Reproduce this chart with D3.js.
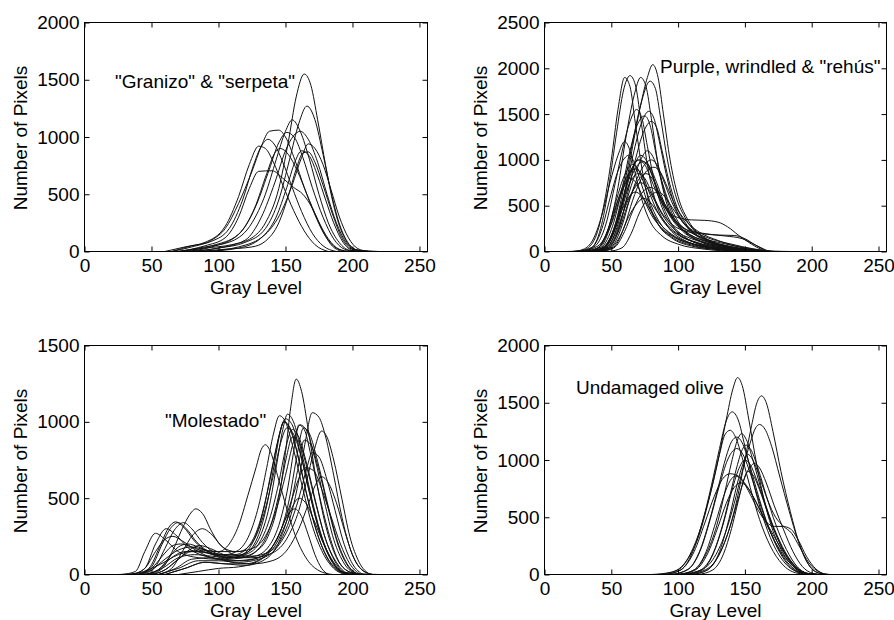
<!DOCTYPE html>
<html>
<head>
<meta charset="utf-8">
<script src="https://cdn.jsdelivr.net/npm/d3@7"></script>
<style>
  html, body { margin: 0; padding: 0; background: #fff; }
  svg { display: block; }
  text { font-family: "Liberation Sans", Arial, sans-serif; fill: #000; }
</style>
</head>
<body>
<svg id="chart" width="894" height="620"></svg>
<script>
// ---------------- DATA ----------------
const xTicks = [0, 50, 100, 150, 200, 250];
const xMax = 256;

const yTicksGranizo = [0, 500, 1000, 1500, 2000];
const yTicksPurple = [0, 500, 1000, 1500, 2000, 2500];
const yTicksMolestado = [0, 500, 1000, 1500];
const yTicksUndamaged = [0, 500, 1000, 1500, 2000];

const labelGranizo = '"Granizo" & "serpeta"';
const labelPurple = 'Purple, wrindled & "rehús"';
const labelMolestado = '"Molestado"';
const labelUndamaged = 'Undamaged olive';

// Each curve: [gray level, number of pixels] knots
const granizoCurves = [
  [[70,0],[90,30],[110,60],[125,120],[135,250],[145,550],[152,950],[158,1350],[164,1550],[169,1450],[174,1150],[180,750],[186,400],[192,170],[198,50],[206,5],[215,0]],
  [[80,0],[100,30],[120,80],[135,200],[145,450],[153,800],[160,1120],[166,1270],[172,1150],[178,850],[184,520],[190,250],[196,90],[203,15],[212,0]],
  [[70,0],[90,40],[110,90],[125,250],[135,500],[143,800],[150,1050],[155,1150],[161,1050],[168,800],[175,500],[182,250],[190,80],[198,10],[208,0]],
  [[65,0],[80,40],[95,100],[105,200],[115,420],[125,700],[132,920],[138,1050],[145,1060],[150,1000],[157,800],[164,560],[172,320],[180,130],[188,30],[196,0]],
  [[80,0],[100,30],[120,100],[132,300],[142,600],[150,880],[156,1010],[161,1050],[167,980],[174,780],[181,500],[188,250],[195,80],[203,10],[212,0]],
  [[75,0],[95,50],[115,150],[128,400],[138,720],[145,950],[151,1040],[157,990],[163,820],[170,560],[178,300],[186,110],[194,20],[202,0]],
  [[65,0],[80,50],[95,90],[108,200],[118,450],[126,750],[132,920],[137,980],[142,930],[148,780],[155,560],[162,350],[170,160],[178,50],[188,0]],
  [[60,0],[75,40],[90,80],[105,220],[115,480],[123,760],[130,920],[135,900],[141,780],[148,580],[156,360],[164,180],[172,60],[182,0]],
  [[75,0],[95,40],[115,150],[127,380],[136,680],[142,860],[146,900],[152,850],[159,700],[166,500],[174,280],[182,110],[190,20],[198,0]],
  [[90,0],[115,40],[135,150],[147,350],[155,580],[162,820],[167,940],[172,900],[178,760],[184,540],[190,310],[197,120],[204,25],[212,0]],
  [[90,0],[115,30],[132,120],[143,300],[151,560],[157,780],[162,880],[168,830],[174,660],[180,450],[186,250],[193,80],[200,10],[208,0]],
  [[70,0],[90,50],[105,120],[115,300],[123,550],[130,700],[140,705],[148,640],[156,560],[163,500],[170,380],[177,200],[184,60],[192,0]],
  [[85,0],[105,20],[125,40],[135,90],[145,250],[152,480],[158,720],[163,860],[167,870],[172,780],[178,580],[185,330],[192,120],[200,20],[220,0]]
];

const purpleCurves = [
  [[20,0],[30,20],[38,150],[45,550],[50,1000],[55,1550],[60,1900],[64,1800],[68,1400],[73,900],[78,550],[85,300],[95,150],[110,60],[130,20],[150,0]],
  [[25,0],[35,40],[42,250],[48,700],[54,1300],[59,1750],[64,1920],[68,1820],[72,1450],[77,950],[83,550],[92,280],[105,120],[125,40],[150,5],[165,0]],
  [[30,0],[40,40],[48,250],[55,700],[61,1250],[67,1700],[72,1900],[76,1800],[80,1450],[85,950],[91,550],[100,280],[115,120],[135,40],[160,0]],
  [[35,0],[45,40],[53,250],[60,650],[66,1150],[72,1600],[77,1900],[81,2040],[85,1900],[89,1500],[94,1000],[100,600],[108,330],[120,150],[140,50],[165,0]],
  [[35,0],[45,60],[53,300],[60,750],[66,1200],[72,1600],[79,1860],[83,1780],[87,1450],[92,1000],[98,620],[106,350],[118,160],[138,50],[165,0]],
  [[28,0],[38,60],[46,300],[53,750],[59,1150],[64,1420],[69,1550],[73,1450],[77,1150],[82,780],[88,480],[97,250],[112,100],[135,25],[160,0]],
  [[35,0],[45,50],[54,300],[61,700],[67,1100],[73,1420],[78,1530],[82,1450],[86,1200],[91,850],[97,520],[106,280],[120,120],[140,40],[165,0]],
  [[33,0],[43,50],[51,280],[58,680],[64,1100],[70,1400],[75,1480],[79,1380],[83,1100],[88,750],[95,430],[104,230],[118,100],[140,25],[165,0]],
  [[22,0],[30,30],[37,150],[43,400],[49,750],[55,1050],[60,1200],[64,1100],[68,850],[73,560],[79,330],[88,170],[100,80],[120,25],[145,0]],
  [[38,0],[48,50],[56,280],[62,580],[68,850],[73,1030],[77,1100],[81,1040],[86,850],[92,580],[99,350],[108,190],[122,90],[145,25],[170,0]],
  [[35,0],[45,40],[52,220],[58,500],[63,780],[68,970],[72,1050],[76,1000],[81,820],[87,560],[94,330],[104,170],[118,70],[140,15],[160,0]],
  [[35,0],[45,50],[52,250],[58,550],[64,850],[70,1000],[75,950],[80,780],[86,580],[93,430],[100,370],[110,345],[120,340],[130,320],[137,270],[145,180],[155,80],[165,10],[172,0]],
  [[38,0],[48,60],[55,300],[61,620],[67,880],[74,980],[79,920],[84,750],[90,520],[97,340],[106,240],[118,200],[130,180],[142,175],[150,140],[158,70],[166,10],[172,0]],
  [[30,0],[40,40],[47,220],[53,520],[59,800],[66,950],[70,900],[75,720],[80,500],[87,300],[96,170],[110,80],[130,25],[150,0]],
  [[40,0],[50,50],[58,280],[64,580],[70,820],[75,950],[80,1000],[84,950],[89,780],[95,550],[102,350],[112,200],[125,110],[145,40],[168,0]],
  [[32,0],[42,50],[49,260],[55,560],[61,800],[68,900],[73,840],[78,660],[84,450],[91,290],[100,180],[115,90],[135,30],[158,0]],
  [[42,0],[52,50],[60,280],[66,560],[72,780],[78,900],[82,920],[87,860],[92,700],[98,500],[106,330],[116,210],[130,120],[148,40],[168,0]],
  [[38,0],[48,40],[56,240],[62,500],[69,750],[76,850],[81,790],[86,620],[93,420],[101,270],[112,160],[128,80],[150,20],[168,0]],
  [[30,0],[40,40],[47,220],[53,480],[59,700],[64,800],[69,740],[74,580],[80,400],[88,250],[98,150],[112,80],[135,20],[155,0]],
  [[36,0],[46,40],[54,230],[60,470],[66,660],[72,750],[77,700],[83,540],[90,360],[98,230],[110,140],[125,80],[145,30],[165,0]],
  [[42,0],[52,40],[60,220],[66,440],[72,620],[79,700],[84,660],[90,520],[97,360],[106,240],[118,150],[133,90],[150,40],[168,0]],
  [[34,0],[44,40],[51,200],[57,420],[63,590],[68,650],[73,600],[79,460],[86,310],[95,190],[108,100],[125,40],[150,0]],
  [[48,0],[58,40],[65,200],[71,420],[78,590],[85,650],[90,600],[96,470],[103,330],[112,220],[124,140],[140,80],[156,30],[170,0]],
  [[40,0],[50,40],[57,180],[63,380],[69,520],[74,580],[79,540],[85,420],[92,290],[101,180],[114,100],[132,40],[155,0]],
  [[26,0],[36,50],[43,250],[49,580],[55,880],[60,1020],[63,1050],[67,980],[72,760],[78,500],[85,300],[95,160],[110,70],[130,20],[150,0]],
  [[38,0],[48,40],[56,260],[62,620],[68,1000],[74,1300],[80,1420],[84,1350],[88,1100],[93,780],[99,490],[107,280],[120,130],[140,40],[165,0]],
  [[35,0],[45,50],[53,280],[59,560],[65,780],[70,850],[75,800],[81,620],[88,420],[96,290],[106,220],[120,190],[135,170],[148,140],[158,70],[168,0]],
  [[15,0],[28,5],[40,60],[50,300],[58,650],[65,900],[71,1000],[76,960],[82,780],[89,520],[97,320],[108,190],[125,100],[145,35],[170,5],[185,0]]
];

const molestadoCurves = [
  [[28,0],[38,20],[45,150],[53,270],[60,230],[70,150],[85,110],[100,100],[115,120],[125,200],[133,400],[140,700],[145,900],[149,1000],[154,950],[160,750],[167,480],[174,260],[182,100],[190,25],[198,0]],
  [[35,0],[45,40],[53,200],[61,300],[68,260],[78,170],[90,120],[105,100],[118,110],[128,150],[137,250],[144,450],[150,800],[154,1100],[158,1280],[162,1200],[167,950],[173,620],[180,320],[187,130],[195,30],[205,0]],
  [[38,0],[48,40],[57,200],[63,310],[68,345],[74,310],[82,220],[92,150],[105,130],[115,160],[123,260],[130,450],[136,700],[141,920],[145.5,1040],[150,1000],[156,820],[163,560],[170,320],[178,140],[186,40],[195,0]],
  [[42,0],[52,40],[60,170],[67,290],[74,340],[80,300],[88,210],[98,140],[110,120],[120,140],[130,230],[138,450],[144,750],[148,950],[151.5,1050],[156,1000],[162,800],[169,520],[176,280],[184,100],[192,20],[200,0]],
  [[48,0],[58,40],[66,160],[74,320],[80,410],[83,430],[88,400],[95,280],[103,180],[113,150],[125,170],[135,250],[143,420],[150,650],[156,870],[161,980],[166,940],[172,760],[179,480],[186,230],[194,70],[203,0]],
  [[55,0],[65,40],[73,150],[81,260],[88,300],[94,270],[102,190],[112,130],[125,120],[138,150],[148,250],[155,420],[160,620],[165,880],[170,1060],[175,1030],[180,900],[186,650],[192,380],[199,150],[206,40],[215,0]],
  [[45,0],[55,30],[63,110],[70,180],[77,200],[85,180],[95,140],[110,110],[125,110],[140,140],[152,250],[160,420],[166,620],[171,800],[177,940],[181,900],[186,750],[192,500],[198,250],[205,80],[213,0]],
  [[40,0],[50,30],[60,100],[70,160],[80,180],[90,160],[100,150],[108,200],[115,320],[122,520],[128,700],[132,820],[135,850],[139,800],[144,650],[151,430],[158,240],[166,100],[175,25],[185,0]],
  [[40,0],[50,40],[60,140],[66,190],[72,200],[80,180],[92,140],[105,120],[118,130],[128,220],[136,450],[142,740],[146,930],[148.5,1000],[153,960],[159,790],[166,520],[173,290],[181,110],[190,20],[198,0]],
  [[35,0],[45,40],[53,150],[60,230],[66,250],[73,220],[83,160],[95,110],[110,90],[125,100],[138,160],[147,300],[153,500],[158,750],[163.5,960],[168,920],[174,740],[181,480],[188,240],[196,70],[205,0]],
  [[50,0],[60,30],[70,100],[80,150],[92,140],[105,100],[118,90],[130,110],[140,180],[148,320],[155,500],[160,630],[165,700],[171,680],[177,560],[184,380],[191,200],[198,70],[206,0]],
  [[55,0],[68,40],[80,100],[95,110],[110,80],[125,70],[140,90],[152,170],[160,300],[167,460],[172,580],[177,640],[182,600],[188,470],[194,290],[200,130],[207,30],[215,0]],
  [[70,0],[85,20],[100,40],[115,50],[128,80],[138,150],[145,260],[151,380],[157,430],[162,380],[167,260],[172,130],[177,40],[182,0]],
  [[60,0],[75,40],[90,80],[105,70],[120,70],[133,110],[143,200],[150,330],[155,440],[160,500],[165,470],[171,360],[178,210],[186,80],[194,10],[200,0]],
  [[40,0],[50,50],[58,200],[64,300],[70,340],[76,300],[84,210],[95,140],[108,110],[120,120],[132,190],[140,350],[146,560],[151,780],[155,900],[160,870],[166,700],[173,450],[180,230],[188,80],[196,10],[204,0]],
  [[50,0],[60,30],[70,100],[78,160],[86,190],[94,170],[104,130],[115,110],[127,120],[138,190],[146,350],[152,580],[156,800],[160,980],[164,950],[169,780],[175,530],[182,280],[189,100],[197,20],[205,0]],
  [[45,0],[55,30],[65,110],[75,150],[87,150],[100,130],[112,130],[122,180],[130,320],[137,560],[143,820],[147,970],[150,1020],[155,980],[161,800],[168,530],[175,290],[183,110],[191,20],[199,0]],
  [[55,0],[70,40],[85,90],[100,90],[115,80],[130,100],[143,170],[153,320],[160,500],[166,700],[170,800],[175,770],[181,620],[187,420],[193,220],[200,70],[208,0]],
  [[45,0],[58,40],[70,110],[82,130],[95,120],[108,110],[120,130],[130,200],[138,360],[145,600],[150,820],[155,950],[160,900],[166,720],[173,460],[180,230],[188,70],[196,0]],
  [[60,0],[75,40],[90,80],[105,70],[120,60],[135,100],[146,230],[153,420],[159,680],[164,880],[169,850],[175,680],[182,430],[189,200],[197,50],[205,0]],
  [[25,0],[40,10],[55,60],[70,130],[85,160],[100,150],[115,150],[126,220],[134,400],[141,650],[147,880],[151,960],[156,920],[162,760],[169,500],[176,270],[184,100],[193,15],[220,0]]
];

const undamagedCurves = [
  [[80,0],[95,20],[105,100],[115,320],[123,650],[130,1000],[136,1350],[141,1620],[144.5,1720],[148,1650],[153,1350],[159,950],[165,620],[172,350],[180,160],[188,50],[197,5],[205,0]],
  [[105,0],[118,30],[128,120],[137,350],[144,650],[150,1000],[155,1300],[159,1500],[162.5,1560],[166,1500],[171,1250],[177,900],[184,550],[191,260],[198,80],[206,10],[214,0]],
  [[85,0],[100,40],[110,200],[118,450],[125,780],[131,1100],[136,1340],[140.5,1420],[145,1350],[150,1120],[156,820],[163,520],[171,270],[180,100],[190,20],[200,0]],
  [[100,0],[115,30],[126,130],[135,350],[142,620],[148,900],[154,1150],[158,1280],[161,1310],[165,1270],[170,1120],[176,860],[183,560],[190,290],[197,100],[205,15],[212,0]],
  [[90,0],[102,40],[111,200],[118,450],[125,750],[131,1050],[135,1220],[139,1260],[143,1200],[148,1020],[154,760],[161,480],[169,250],[178,90],[188,15],[198,0]],
  [[100,0],[112,40],[121,180],[129,430],[135,720],[140,980],[144,1160],[147.5,1230],[151,1180],[156,1000],[162,750],[169,480],[177,250],[185,90],[194,10],[202,0]],
  [[95,0],[107,40],[116,200],[123,450],[130,760],[136,1030],[140,1160],[144,1200],[148,1150],[153,980],[159,730],[166,470],[174,240],[182,90],[191,15],[200,0]],
  [[105,0],[117,40],[126,180],[133,420],[139,700],[144,940],[148,1090],[151,1130],[155,1080],[160,920],[166,690],[173,440],[181,220],[189,70],[198,5],[205,0]],
  [[95,0],[108,50],[117,220],[124,480],[131,780],[137,1000],[141,1080],[144,1100],[148,1060],[153,920],[159,700],[166,460],[174,250],[183,90],[192,15],[200,0]],
  [[110,0],[122,40],[131,180],[139,420],[145,660],[150,850],[154,940],[157,970],[161,930],[166,800],[172,600],[179,390],[186,200],[193,70],[201,10],[208,0]],
  [[90,0],[102,40],[112,200],[120,450],[127,680],[133,830],[139,880],[145,860],[151,780],[158,640],[165,480],[172,330],[180,180],[188,70],[197,10],[205,0]],
  [[100,0],[112,40],[121,200],[128,450],[134,680],[139,820],[143,860],[148,820],[154,700],[160,560],[166,460],[172,420],[178,420],[184,400],[190,300],[196,160],[203,50],[210,0]],
  [[105,0],[118,40],[127,200],[134,450],[140,720],[145,910],[150,1000],[154,960],[159,820],[165,620],[172,400],[180,200],[188,70],[197,10],[205,0]],
  [[115,0],[126,40],[134,180],[140,400],[145,640],[149,820],[152,900],[156,870],[161,740],[167,540],[174,330],[182,150],[190,40],[199,0]],
  [[110,0],[122,40],[131,200],[138,480],[144,780],[149,980],[152,1050],[156,1000],[161,850],[167,650],[173,500],[179,420],[185,360],[191,240],[198,100],[206,20],[213,0]],
  [[100,0],[113,40],[122,180],[130,420],[136,620],[142,760],[147,800],[152,760],[158,640],[165,470],[172,300],[180,150],[189,50],[198,0]]
];

// ---------------- DRAW ----------------
const svg = d3.select("#chart");
const FONT = 19;
const fmt = d3.format("d");

const panels = [
  { curves: granizoCurves, yTicks: yTicksGranizo, label: labelGranizo,
    box: { x: 84.5, y: 22.5, w: 343, h: 229 }, ann: { x: 115, y: 88 }, yTitleY: 138 },
  { curves: purpleCurves, yTicks: yTicksPurple, label: labelPurple,
    box: { x: 544.5, y: 22.5, w: 342, h: 229 }, ann: { x: 660, y: 73 }, yTitleY: 138 },
  { curves: molestadoCurves, yTicks: yTicksMolestado, label: labelMolestado,
    box: { x: 84.5, y: 345.5, w: 343, h: 229 }, ann: { x: 165, y: 427 }, yTitleY: 461 },
  { curves: undamagedCurves, yTicks: yTicksUndamaged, label: labelUndamaged,
    box: { x: 544.5, y: 345.5, w: 342, h: 229 }, ann: { x: 576, y: 394 }, yTitleY: 461 }
];

panels.forEach(p => {
  const b = p.box;
  const g = svg.append("g").attr("transform", `translate(${b.x},${b.y})`);
  const x = d3.scaleLinear().domain([0, xMax]).range([0, b.w]);
  const yMax = p.yTicks[p.yTicks.length - 1];
  const y = d3.scaleLinear().domain([0, yMax]).range([b.h, 0]);

  // curves
  const line = d3.line()
    .x(d => x(d[0]))
    .y(d => y(d[1]))
    .curve(d3.curveMonotoneX);
  g.append("g")
    .selectAll("path")
    .data(p.curves)
    .join("path")
    .attr("d", line)
    .attr("fill", "none")
    .attr("stroke", "#111")
    .attr("stroke-width", 1);

  // axes (ticks inward, on all four sides)
  const tl = 5;
  const bottom = g.append("g").attr("transform", `translate(0,${b.h})`)
    .call(d3.axisBottom(x).tickValues(xTicks).tickFormat(fmt).tickSizeInner(-tl).tickSizeOuter(0).tickPadding(7));
  const top = g.append("g")
    .call(d3.axisTop(x).tickValues(xTicks).tickSizeInner(-tl).tickSizeOuter(0).tickFormat(""));
  const left = g.append("g")
    .call(d3.axisLeft(y).tickValues(p.yTicks).tickFormat(fmt).tickSizeInner(-tl).tickSizeOuter(0).tickPadding(5));
  const right = g.append("g").attr("transform", `translate(${b.w},0)`)
    .call(d3.axisRight(y).tickValues(p.yTicks).tickSizeInner(-tl).tickSizeOuter(0).tickFormat(""));

  [bottom, top, left, right].forEach(a => {
    a.select(".domain").remove();
    a.selectAll("line").attr("stroke", "#000").attr("stroke-width", 1);
    a.selectAll("text")
      .attr("font-family", '"Liberation Sans", Arial, sans-serif')
      .attr("font-size", FONT)
      .attr("fill", "#000");
  });

  // box frame
  g.append("rect")
    .attr("x", 0).attr("y", 0)
    .attr("width", b.w).attr("height", b.h)
    .attr("fill", "none").attr("stroke", "#000").attr("stroke-width", 1);

  // axis titles
  svg.append("text")
    .attr("x", b.x + b.w / 2)
    .attr("y", b.y + b.h + 42)
    .attr("text-anchor", "middle")
    .attr("font-size", FONT)
    .text("Gray Level");

  svg.append("text")
    .attr("transform", `translate(${b.x - 58},${p.yTitleY}) rotate(-90)`)
    .attr("text-anchor", "middle")
    .attr("font-size", FONT)
    .text("Number of Pixels");

  // annotation
  svg.append("text")
    .attr("x", p.ann.x)
    .attr("y", p.ann.y)
    .attr("font-size", FONT)
    .text(p.label);
});
</script>
</body>
</html>
